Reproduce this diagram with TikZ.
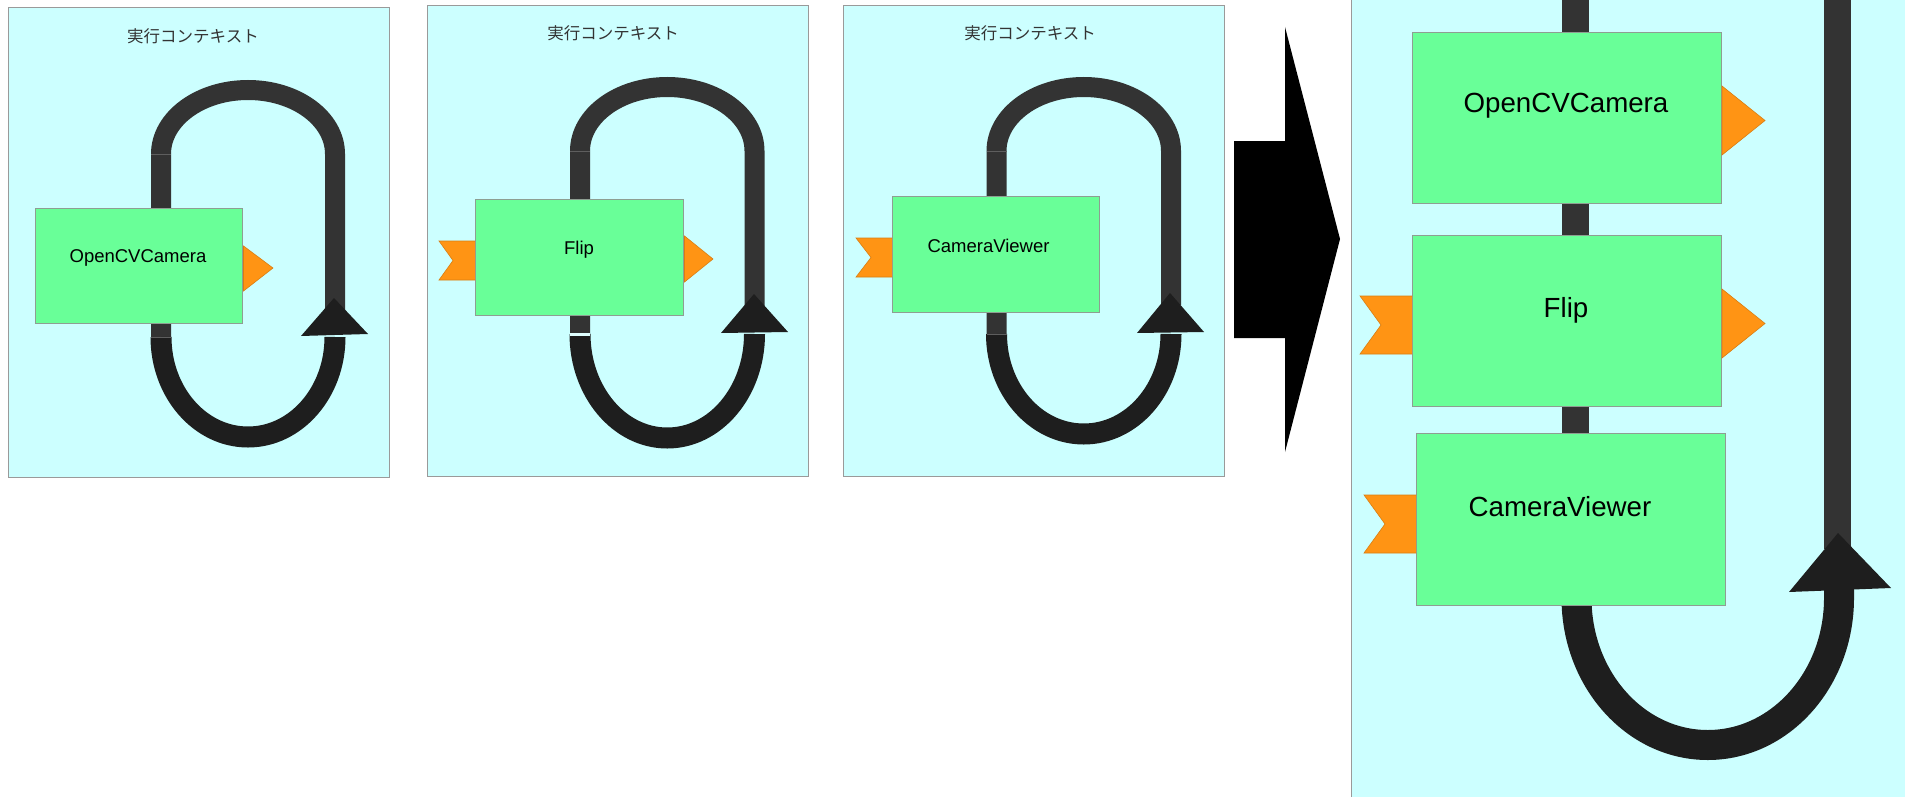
\documentclass[tikz,border=0pt]{standalone}
\usepackage{fontspec}
\setmainfont{Liberation Sans}
\newfontfamily\jpfont{Noto Sans CJK JP}
\definecolor{cyanbg}{HTML}{CCFFFF}
\definecolor{panelgray}{HTML}{9A9A9A}
\definecolor{compgreen}{HTML}{69FF98}
\definecolor{compgray}{HTML}{8E9E92}
\definecolor{portorange}{HTML}{FF9414}
\definecolor{portedge}{HTML}{D97E12}
\definecolor{loopdark}{HTML}{333333}
\definecolor{loopblack}{HTML}{1E1E1E}
\definecolor{seamgray}{HTML}{5E5E5E}
\definecolor{titlegray}{HTML}{333333}
\tikzset{
  panel/.style={fill=cyanbg,draw=panelgray,line width=1pt},
  comp/.style={rectangle,fill=compgreen,draw=compgray,line width=1pt,inner sep=0pt},
  smalllbl/.style={inner sep=0pt,font=\fontsize{18.5}{20}\selectfont},
  biglbl/.style={inner sep=0pt,font=\fontsize{27.7}{30}\selectfont},
  ttl/.style={inner sep=0pt,text=titlegray,font=\jpfont\fontsize{16.5}{18}\selectfont},
  port/.style={fill=portorange,draw=portedge,line width=0.6pt,line join=miter},
  loopA/.style={draw=loopdark,line width=20pt,line cap=butt},
  loopB/.style={draw=loopblack,line width=21pt,line cap=butt},
  bigA/.style={draw=loopdark,line width=27pt,line cap=butt},
  bigB/.style={draw=loopblack,line width=30pt,line cap=butt},
  headtri/.style={fill=loopblack},
  seam/.style={draw=seamgray,line width=1pt},
  gap/.style={draw=cyanbg!60!white,line width=2.5pt}
}
\begin{document}
\begin{tikzpicture}[x=1pt,y=-1pt]
\useasboundingbox (0,0) rectangle (1905,797);
\fill[white] (0,0) rectangle (1905,797);

% ---------- Panel 1 ----------
\draw[panel] (8,8) rectangle (389,477);
\node[ttl] (ttl1) at (193,36) {実行コンテキスト};
\draw[loopA] (161,337) -- (161,154) arc[start angle=180,end angle=360,x radius=87,y radius=64] -- (335,310);
\draw[loopB] (161,337) arc[start angle=180,end angle=0,x radius=87,y radius=100];
\draw[seam] (151,154) -- (171,154);
\draw[seam] (151,337) -- (171,337);
\fill[headtri] (334,298) -- (368,334) -- (301,336) -- cycle;
\node[comp,minimum width=207,minimum height=115] (box1) at (139,266) {};
\node[smalllbl] (lbl1) at (138,258) {OpenCVCamera};
\draw[port] (243.5,246) -- (273,268) -- (243.5,291) -- cycle;

% ---------- Panel 2 ----------
\draw[panel] (427,6) rectangle (808,476);
\node[ttl] (ttl2) at (613,33) {実行コンテキスト};
\draw[loopA] (580,334) -- (580,151) arc[start angle=180,end angle=360,x radius=87.25,y radius=64] -- (754.5,306);
\draw[loopB] (580,334) arc[start angle=180,end angle=0,x radius=87.25,y radius=104];
\draw[seam] (570,151) -- (590,151);
\draw[gap] (570,334.5) -- (590,334.5);
\fill[headtri] (754,294) -- (788,332) -- (721,333) -- cycle;
\node[comp,minimum width=208,minimum height=116] (box2) at (579.5,257.5) {};
\node[smalllbl] (lbl2) at (579,250) {Flip};
\draw[port] (475,241) -- (439,241) -- (453,260.5) -- (439,280) -- (475,280);
\draw[port] (684.5,236) -- (713,259) -- (684.5,282) -- cycle;

% ---------- Panel 3 ----------
\draw[panel] (843,6) rectangle (1224,476);
\node[ttl] (ttl3) at (1030,33) {実行コンテキスト};
\draw[loopA] (996.5,334) -- (996.5,151) arc[start angle=180,end angle=360,x radius=87.25,y radius=64] -- (1171,305);
\draw[loopB] (996.5,334) arc[start angle=180,end angle=0,x radius=87.25,y radius=100];
\draw[seam] (986.5,151) -- (1006.5,151);
\draw[seam] (986.5,334) -- (1006.5,334);
\fill[headtri] (1170,293) -- (1204,332) -- (1137,333) -- cycle;
\node[comp,minimum width=207,minimum height=116] (box3) at (996,254.5) {};
\node[smalllbl] (lbl3) at (988.5,246) {CameraViewer};
\draw[port] (892,238) -- (856,238) -- (871,257.5) -- (856,277) -- (892,277);

% ---------- Big arrow ----------
\fill[black] (1234,141) -- (1285,141) -- (1285,27) -- (1340,239) -- (1285,452) -- (1285,338) -- (1234,338) -- cycle;

% ---------- Big panel ----------
\fill[cyanbg] (1351,-2) rectangle (1907,799);
\draw[panelgray,line width=1pt] (1351,-2) -- (1351,799);
\draw[bigA] (1575.5,-5) -- (1575.5,606);
\draw[bigA] (1837,-5) -- (1837,549);
\draw[bigB] (1576.5,598) arc[start angle=180,end angle=0,x radius=131.25,y radius=147] -- (1839,588);
\fill[headtri] (1838,533) -- (1891,588) -- (1789,592) -- cycle;
\node[comp,minimum width=309,minimum height=171] (big1) at (1567,118) {};
\node[comp,minimum width=309,minimum height=171] (big2) at (1567,321) {};
\node[comp,minimum width=309,minimum height=172] (big3) at (1571,519.5) {};
\node[biglbl] (blbl1) at (1566,106) {OpenCVCamera};
\node[biglbl] (blbl2) at (1566,310) {Flip};
\node[biglbl] (blbl3) at (1560,507) {CameraViewer};
\draw[port] (1722,86) -- (1765,120.5) -- (1722,155) -- cycle;
\draw[port] (1722,289) -- (1765,323.5) -- (1722,358) -- cycle;
\draw[port] (1412,296) -- (1360,296) -- (1381,325) -- (1360,354) -- (1412,354);
\draw[port] (1416,495) -- (1364,495) -- (1385,524) -- (1364,553) -- (1416,553);
\end{tikzpicture}
\end{document}
